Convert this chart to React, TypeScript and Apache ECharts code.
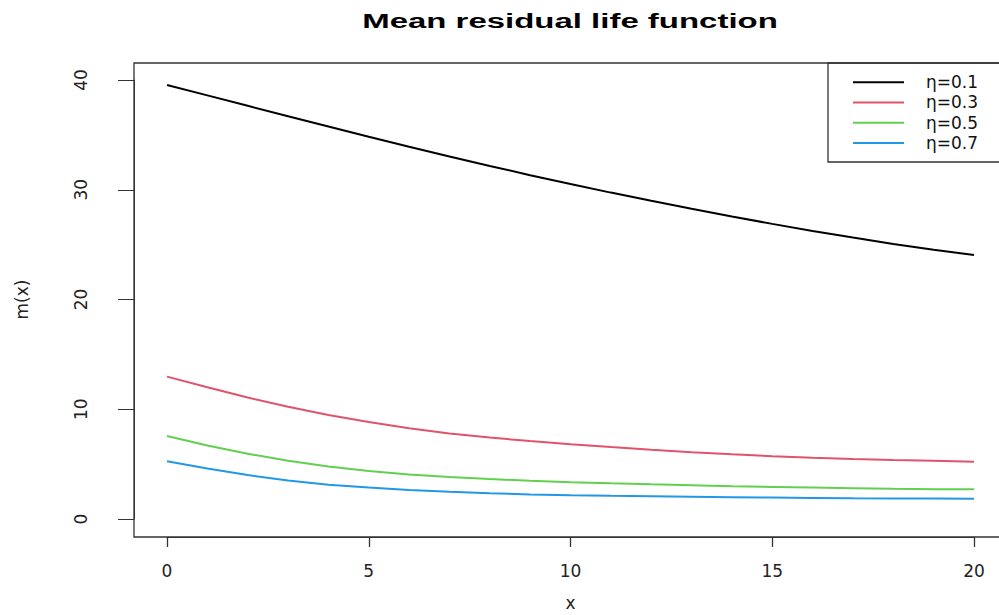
import React, { useEffect, useRef } from "react";
import * as echarts from "echarts";

const xValues = [0, 1, 2, 3, 4, 5, 6, 7, 8, 9, 10, 11, 12, 13, 14, 15, 16, 17, 18, 19, 20];
const eta01 = [39.55, 38.6, 37.65, 36.7, 35.76, 34.83, 33.92, 33.03, 32.17, 31.33, 30.52, 29.74, 28.99, 28.26, 27.56, 26.89, 26.25, 25.64, 25.06, 24.54, 24.06];
const eta03 = [12.97, 12.0, 11.07, 10.23, 9.48, 8.83, 8.27, 7.8, 7.42, 7.1, 6.82, 6.55, 6.3, 6.08, 5.89, 5.72, 5.58, 5.47, 5.38, 5.3, 5.22];
const eta05 = [7.56, 6.7, 5.95, 5.3, 4.79, 4.38, 4.06, 3.82, 3.64, 3.48, 3.35, 3.25, 3.16, 3.08, 2.99, 2.92, 2.86, 2.81, 2.76, 2.72, 2.7];
const eta07 = [5.26, 4.6, 4.0, 3.5, 3.13, 2.86, 2.65, 2.48, 2.35, 2.24, 2.16, 2.11, 2.07, 2.03, 1.99, 1.95, 1.92, 1.89, 1.87, 1.86, 1.85];
const seriesNames = ["η=0.1", "η=0.3", "η=0.5", "η=0.7"];
const seriesColors = ["#000000", "#DF536B", "#61D04F", "#2297E6"];
const allSeries = [eta01, eta03, eta05, eta07];

const titleText = "Mean residual life function";
const xName = "x";
const yName = "m(x)";

export default function App() {
  const ref = useRef<HTMLDivElement>(null);
  useEffect(() => {
    const chart = echarts.init(ref.current!, null, { renderer: "svg" });
    const axisColor = "#333";
    const font = "DejaVu Sans";
    chart.setOption({
      animation: false,
      backgroundColor: "#ffffff",
      grid: { left: 167, right: 25, top: 80, bottom: 96, containLabel: false, outerBoundsMode: "none" },
      xAxis: {
        type: "value",
        min: 0,
        max: 20,
        interval: 5,
        offset: 18,
        axisLine: { show: true, onZero: false, lineStyle: { color: axisColor, width: 1 } },
        axisTick: { show: true, length: 10, lineStyle: { color: axisColor, width: 1.3 } },
        axisLabel: { margin: 25, fontSize: 17, color: "#222", fontFamily: font },
        splitLine: { show: false },
        name: xName,
        nameLocation: "middle",
        nameGap: 57,
        nameTextStyle: { fontSize: 17, color: "#222", fontFamily: font },
      },
      yAxis: {
        type: "value",
        min: 0,
        max: 40,
        interval: 10,
        offset: 33,
        axisLine: { show: true, onZero: false, lineStyle: { color: axisColor, width: 1 } },
        axisTick: { show: true, length: 16, lineStyle: { color: axisColor, width: 1 } },
        axisLabel: { margin: 45, fontSize: 17, color: "#222", fontFamily: font, rotate: 90 },
        splitLine: { show: false },
        name: yName,
        nameLocation: "middle",
        nameRotate: 90,
        nameGap: 104,
        nameTextStyle: { fontSize: 17, color: "#222", fontFamily: font },
      },
      legend: {
        data: seriesNames,
        orient: "vertical",
        left: 853,
        top: 72,
        padding: 0,
        itemWidth: 51,
        itemHeight: 2,
        itemGap: 0,
        icon: "rect",
        formatter: (n: string) => "{a|" + n + "}",
        textStyle: {
          fontSize: 17,
          color: "#111",
          fontFamily: font,
          lineHeight: 20.3,
          rich: { a: { fontSize: 17, fontFamily: font, color: "#111", padding: [0, 0, 0, 17], lineHeight: 20.3 } },
        },
      },
      graphic: [
        {
          type: "rect",
          shape: { x: 134, y: 63, width: 872, height: 474 },
          style: { fill: "none", stroke: axisColor, lineWidth: 1.3 },
          silent: true,
        },
        {
          type: "rect",
          shape: { x: 828, y: 63, width: 200, height: 99 },
          style: { fill: "#fff", stroke: axisColor, lineWidth: 1.3 },
          z: -1,
          silent: true,
        },
        {
          type: "text",
          x: 570,
          y: 21,
          scaleX: 1.57,
          style: {
            text: titleText,
            fontSize: 21,
            fontWeight: "bold",
            fontFamily: "Liberation Sans",
            fill: "#000",
            textAlign: "center",
            textVerticalAlign: "middle",
          },
        },
      ],
      series: allSeries.map((vals, si) => ({
        name: seriesNames[si],
        type: "line",
        data: xValues.map((x, i) => [x, vals[i]]),
        showSymbol: false,
        symbol: "none",
        lineStyle: { color: seriesColors[si], width: 2 },
        itemStyle: { color: seriesColors[si] },
        color: seriesColors[si],
      })),
    });
    return () => chart.dispose();
  }, []);
  return (
    <div
      ref={ref}
      style={{ position: "fixed", left: 0, top: 0, width: 999, height: 615, background: "#fff" }}
    />
  );
}
